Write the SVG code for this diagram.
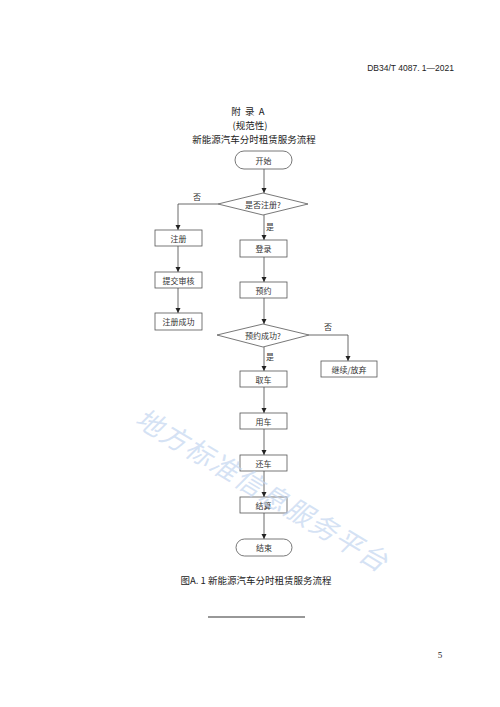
<svg xmlns="http://www.w3.org/2000/svg" width="500" height="707" viewBox="0 0 500 707">
<defs>
<marker id="ah" markerWidth="6" markerHeight="6" refX="5" refY="3" orient="auto" markerUnits="userSpaceOnUse">
<path d="M0,0.5 L5,3 L0,5.5 Z" fill="#222"/>
</marker>
<style>
.n{fill:#fff;stroke:#555;stroke-width:0.8}
.t{font-family:"Noto Sans CJK SC","Liberation Sans",sans-serif;font-size:8px;fill:#333;text-anchor:middle;dominant-baseline:central}
.l{font-family:"Noto Sans CJK SC","Liberation Sans",sans-serif;font-size:8px;fill:#333}
.c{fill:none;stroke:#444;stroke-width:0.8;marker-end:url(#ah)}
.h{font-family:"Noto Sans CJK SC","Liberation Sans",sans-serif;fill:#222;text-anchor:middle}
</style>
</defs>
<rect width="500" height="707" fill="#fff"/>
<text x="454" y="71" class="h" style="text-anchor:end;font-size:8.5px;font-family:'Liberation Sans','Noto Sans CJK SC',sans-serif" xml:space="preserve">DB34/T 4087. 1—2021</text>
<text x="248" y="115" class="h" style="font-size:9.5px" xml:space="preserve">附  录  A</text>
<text x="250" y="129" class="h" style="font-size:9.5px">(规范性)</text>
<text x="254" y="143" class="h" style="font-size:9.5px">新能源汽车分时租赁服务流程</text>
<g id="connectors">
<path class="c" d="M264,169 V193"/>
<path class="c" d="M218,204 H178 V230"/>
<path class="c" d="M264,215 V240"/>
<path class="c" d="M178,246 V272"/>
<path class="c" d="M178,288 V313"/>
<path class="c" d="M264,257 V282"/>
<path class="c" d="M264,298 V324"/>
<path class="c" d="M309,335 H348 V361"/>
<path class="c" d="M264,347 V371"/>
<path class="c" d="M264,387 V413"/>
<path class="c" d="M264,429 V455"/>
<path class="c" d="M264,471 V497"/>
<path class="c" d="M264,513 V539"/>
<text class="l" x="193" y="200">否</text>
<text class="l" x="266" y="230">是</text>
<text class="l" x="324" y="330">否</text>
<text class="l" x="266" y="360">是</text>
</g>
<g id="start"><rect class="n" x="235" y="151" width="57" height="18" rx="9"/><text class="t" x="263.5" y="160">开始</text></g>
<g id="d1"><path class="n" d="M263,193 L308,204 L263,215 L218,204 Z"/><text class="t" x="263" y="204">是否注册?</text></g>
<g id="reg"><rect class="n" x="155" y="230" width="47" height="16"/><text class="t" x="178.5" y="238">注册</text></g>
<g id="submit"><rect class="n" x="155" y="272" width="47" height="16"/><text class="t" x="178.5" y="280">提交审核</text></g>
<g id="regok"><rect class="n" x="155" y="313" width="47" height="17"/><text class="t" x="178.5" y="321.5">注册成功</text></g>
<g id="login"><rect class="n" x="240" y="240" width="47" height="17"/><text class="t" x="263.5" y="248.5">登录</text></g>
<g id="book"><rect class="n" x="240" y="282" width="47" height="16"/><text class="t" x="263.5" y="290">预约</text></g>
<g id="d2"><path class="n" d="M263,324 L309,335 L263,347 L217,335 Z"/><text class="t" x="263" y="335">预约成功?</text></g>
<g id="cont"><rect class="n" x="321" y="361" width="56" height="16"/><text class="t" x="349" y="369">继续/放弃</text></g>
<g id="pick"><rect class="n" x="240" y="371" width="47" height="16"/><text class="t" x="263.5" y="379">取车</text></g>
<g id="use"><rect class="n" x="240" y="413" width="47" height="16"/><text class="t" x="263.5" y="421">用车</text></g>
<g id="ret"><rect class="n" x="240" y="455" width="47" height="16"/><text class="t" x="263.5" y="463">还车</text></g>
<g id="settle"><rect class="n" x="240" y="497" width="47" height="16"/><text class="t" x="263.5" y="505">结算</text></g>
<g id="end"><rect class="n" x="236" y="539" width="56" height="17" rx="8.5"/><text class="t" x="264" y="547.5">结束</text></g>
<text x="256" y="584" class="h" style="font-size:9.5px" xml:space="preserve">图A. 1 新能源汽车分时租赁服务流程</text>
<line x1="208" y1="617" x2="305" y2="617" stroke="#333" stroke-width="1.2"/>
<text x="440" y="658" class="h" style="font-size:9px;font-family:'Liberation Serif',serif">5</text>
<text x="133" y="424" transform="rotate(31 133 424)" style="font-family:'Noto Sans CJK SC',sans-serif;font-size:27px;fill:#c3d5f0;fill-opacity:0.7;font-style:italic;letter-spacing:2px">地方标准信息服务平台</text>
</svg>
